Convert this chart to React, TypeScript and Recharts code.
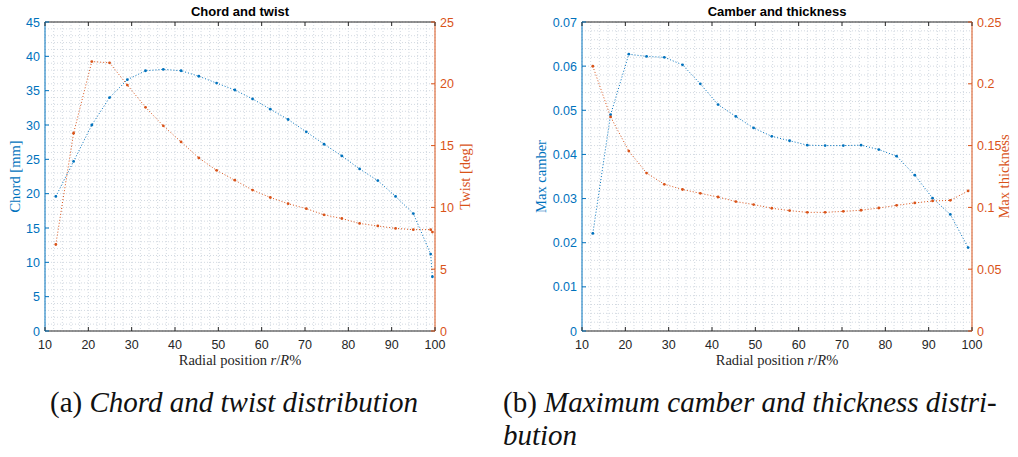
import React from "react";
import { LineChart, Line, XAxis, YAxis, CartesianGrid } from "recharts";

const BLUE = "#0072BD";
const ORANGE = "#D95319";
const AXIS = "#262626";
const GRID = "#d2d9e1";
const SANS = "'Liberation Sans', Arial, Helvetica, sans-serif";
const SERIF = "'Liberation Serif', 'Times New Roman', serif";

// radial stations r/R [%] for the chord/twist plot
const rChord = [
  12.5, 16.6, 20.8, 24.9, 29.0, 33.2, 37.3, 41.4, 45.5, 49.6, 53.8, 57.9,
  62.0, 66.1, 70.3, 74.4, 78.5, 82.6, 86.8, 90.9, 95.0, 99.0, 99.4,
];
const chord = [
  19.6, 24.7, 30.0, 34.0, 36.6, 37.9, 38.1, 37.9, 37.1, 36.1, 35.1, 33.8,
  32.3, 30.8, 29.0, 27.2, 25.5, 23.6, 21.9, 19.6, 17.1, 11.2, 7.9,
];
const twist = [
  7.0, 16.0, 21.8, 21.7, 19.9, 18.1, 16.6, 15.3, 14.0, 13.0, 12.2, 11.4,
  10.8, 10.3, 9.9, 9.4, 9.1, 8.7, 8.5, 8.3, 8.2, 8.2, 8.0,
];

// radial stations for the camber/thickness plot
const rCamber = [
  12.5, 16.6, 20.8, 24.9, 29.0, 33.2, 37.3, 41.4, 45.5, 49.6, 53.8, 57.9,
  62.0, 66.1, 70.3, 74.4, 78.5, 82.6, 86.8, 90.9, 95.0, 99.1,
];
const camber = [
  0.0221, 0.049, 0.0627, 0.0622, 0.062, 0.0603, 0.056, 0.0513, 0.0486, 0.046,
  0.0441, 0.0431, 0.0421, 0.042, 0.042, 0.0421, 0.0411, 0.0396, 0.0353,
  0.0301, 0.0264, 0.0189,
];
const thickness = [
  0.2142, 0.1732, 0.1456, 0.1278, 0.1187, 0.1145, 0.1114, 0.1084, 0.1047,
  0.1023, 0.0993, 0.0974, 0.096, 0.096, 0.0968, 0.0977, 0.0995, 0.1017,
  0.1036, 0.1052, 0.1057, 0.1133,
];

const xTicks = [10, 20, 30, 40, 50, 60, 70, 80, 90, 100];
const chordTicks = [0, 5, 10, 15, 20, 25, 30, 35, 40, 45];
const twistTicks = [0, 5, 10, 15, 20, 25];
const camberTicks = [0, 0.01, 0.02, 0.03, 0.04, 0.05, 0.06, 0.07];
const thicknessTicks = [0, 0.05, 0.1, 0.15, 0.2, 0.25];

// minor grid positions
const steps = (from: number, to: number, n: number) =>
  Array.from({ length: n + 1 }, (_, i) => from + ((to - from) * i) / n);
const xMinor = steps(10, 100, 45);
const chordMinor = steps(0, 45, 45);
const camberMinor = steps(0, 0.07, 35);

const chordRows = rChord.map((r, i) => ({ r, chord: chord[i], twist: twist[i] }));
const camberRows = rCamber.map((r, i) => ({ r, camber: camber[i], thickness: thickness[i] }));

const TL = 4; // tick length (inward)
const TICK_FS = 12.5;

const leftTick = (color: string) => (p: any) => (
  <g>
    <line x1={p.x + 5} x2={p.x + 5 + TL} y1={p.y} y2={p.y} stroke={color} />
    <text x={p.x} y={p.y} dy={4.5} textAnchor="end" fill={color} fontSize={TICK_FS} fontFamily={SANS}>
      {p.payload.value}
    </text>
  </g>
);

const rightTick = (color: string) => (p: any) => (
  <g>
    <line x1={p.x - 5} x2={p.x - 5 - TL} y1={p.y} y2={p.y} stroke={color} />
    <text x={p.x} y={p.y} dy={4.5} textAnchor="start" fill={color} fontSize={TICK_FS} fontFamily={SANS}>
      {p.payload.value}
    </text>
  </g>
);

const bottomTick = (p: any) => (
  <g>
    <line x1={p.x} x2={p.x} y1={p.y} y2={p.y - TL} stroke={AXIS} />
    <text x={p.x} y={p.y + 18} textAnchor="middle" fill={AXIS} fontSize={TICK_FS} fontFamily={SANS}>
      {p.payload.value}
    </text>
  </g>
);

const topTick = (p: any) => (
  <line x1={p.x} x2={p.x} y1={p.y} y2={p.y + TL} stroke={AXIS} />
);

const yLabel = (text: string, color: string, dx: number, side: "left" | "right") => (p: any) => {
  const vb = p.viewBox;
  const x = side === "left" ? vb.x + vb.width - dx : vb.x + dx;
  const y = vb.y + vb.height / 2;
  return (
    <text
      x={x}
      y={y}
      dy={5}
      transform={`rotate(-90, ${x}, ${y})`}
      textAnchor="middle"
      fill={color}
      fontSize={14.5}
      fontFamily={SERIF}
    >
      {text}
    </text>
  );
};

const xLabel = (p: any) => {
  const vb = p.viewBox;
  return (
    <text x={vb.x + vb.width / 2} y={vb.y + 34} textAnchor="middle" fill={AXIS} fontSize={14.5} fontFamily={SERIF}>
      Radial position <tspan fontStyle="italic">r</tspan>/<tspan fontStyle="italic">R</tspan>%
    </text>
  );
};

const titleLabel = (text: string) => (p: any) => {
  const vb = p.viewBox;
  return (
    <text x={vb.x + vb.width / 2} y={16} textAnchor="middle" fill="#000" fontSize={13} fontWeight="bold" fontFamily={SANS}>
      {text}
    </text>
  );
};

const dot = (color: string) => (p: any) => (
  <circle key={p.index} cx={p.cx} cy={p.cy} r={1.4} fill={color} />
);

interface PanelProps {
  data: any[];
  width: number;
  title: string;
  leftKey: string;
  rightKey: string;
  leftName: string;
  rightName: string;
  leftDomain: [number, number];
  rightDomain: [number, number];
  leftTicks: number[];
  rightTicks: number[];
  leftMinor: number[];
  leftAxisWidth: number;
  rightAxisWidth: number;
  leftLabelDx: number;
  rightLabelDx: number;
  marginRight: number;
}

function Panel(props: PanelProps) {
  return (
    <LineChart
      width={props.width}
      height={370}
      data={props.data}
      margin={{ top: 21, right: props.marginRight, bottom: 5, left: 0 }}
    >
      <CartesianGrid
        xAxisId="bottom"
        yAxisId="left"
        stroke={GRID}
        strokeDasharray="1 2"
        verticalValues={xMinor}
        horizontalValues={props.leftMinor}
      />
      <XAxis
        xAxisId="bottom"
        dataKey="r"
        type="number"
        domain={[10, 100]}
        ticks={xTicks}
        interval={0}
        height={34}
        tickLine={false}
        tickSize={0}
        tickMargin={0}
        axisLine={{ stroke: AXIS }}
        tick={bottomTick}
        label={xLabel}
      />
      <XAxis
        xAxisId="top"
        dataKey="r"
        orientation="top"
        type="number"
        domain={[10, 100]}
        ticks={xTicks}
        interval={0}
        height={1}
        tickLine={false}
        tickSize={0}
        tickMargin={0}
        axisLine={{ stroke: AXIS }}
        tick={topTick}
        label={titleLabel(props.title)}
      />
      <YAxis
        yAxisId="left"
        orientation="left"
        type="number"
        domain={props.leftDomain}
        ticks={props.leftTicks}
        interval={0}
        width={props.leftAxisWidth}
        tickLine={false}
        tickSize={0}
        tickMargin={5}
        axisLine={{ stroke: BLUE }}
        tick={leftTick(BLUE)}
        label={yLabel(props.leftName, BLUE, props.leftLabelDx, "left")}
      />
      <YAxis
        yAxisId="right"
        orientation="right"
        type="number"
        domain={props.rightDomain}
        ticks={props.rightTicks}
        interval={0}
        width={props.rightAxisWidth}
        tickLine={false}
        tickSize={0}
        tickMargin={5}
        axisLine={{ stroke: ORANGE }}
        tick={rightTick(ORANGE)}
        label={yLabel(props.rightName, ORANGE, props.rightLabelDx, "right")}
      />
      {/* carries the top (box) axis, draws nothing */}
      <Line
        xAxisId="top"
        yAxisId="left"
        dataKey={props.leftKey}
        stroke="none"
        dot={false}
        activeDot={false}
        legendType="none"
        isAnimationActive={false}
      />
      <Line
        xAxisId="bottom"
        yAxisId="left"
        type="linear"
        dataKey={props.leftKey}
        stroke={BLUE}
        strokeWidth={1}
        strokeDasharray="1 2"
        dot={dot(BLUE)}
        activeDot={false}
        isAnimationActive={false}
      />
      <Line
        xAxisId="bottom"
        yAxisId="right"
        type="linear"
        dataKey={props.rightKey}
        stroke={ORANGE}
        strokeWidth={1}
        strokeDasharray="1 2"
        dot={dot(ORANGE)}
        activeDot={false}
        isAnimationActive={false}
      />
    </LineChart>
  );
}

const captionStyle: React.CSSProperties = {
  position: "absolute",
  fontFamily: SERIF,
  fontSize: 29,
  lineHeight: "33px",
  color: "#111",
  whiteSpace: "nowrap",
};

export default function App() {
  return (
    <div style={{ position: "absolute", left: 0, top: 0, width: 1018, height: 457, background: "#fff", overflow: "hidden" }}>
      <div style={{ position: "absolute", left: 0, top: 0 }}>
        <Panel
          data={chordRows}
          width={500}
          title="Chord and twist"
          leftKey="chord"
          rightKey="twist"
          leftName="Chord [mm]"
          rightName="Twist [deg]"
          leftDomain={[0, 45]}
          rightDomain={[0, 25]}
          leftTicks={chordTicks}
          rightTicks={twistTicks}
          leftMinor={chordMinor}
          leftAxisWidth={45}
          rightAxisWidth={45}
          leftLabelDx={30}
          rightLabelDx={30}
          marginRight={20}
        />
      </div>
      <div style={{ position: "absolute", left: 522, top: 0 }}>
        <Panel
          data={camberRows}
          width={496}
          title="Camber and thickness"
          leftKey="camber"
          rightKey="thickness"
          leftName="Max camber"
          rightName="Max thickness"
          leftDomain={[0, 0.07]}
          rightDomain={[0, 0.25]}
          leftTicks={camberTicks}
          rightTicks={thicknessTicks}
          leftMinor={camberMinor}
          leftAxisWidth={60}
          rightAxisWidth={46}
          leftLabelDx={41}
          rightLabelDx={32}
          marginRight={0}
        />
      </div>
      <div style={{ ...captionStyle, left: 50, top: 386 }}>
        (a) <i>Chord and twist distribution</i>
      </div>
      <div style={{ ...captionStyle, left: 503, top: 386 }}>
        (b) <i>Maximum camber and thickness distri-</i>
        <br />
        <i>bution</i>
      </div>
    </div>
  );
}
